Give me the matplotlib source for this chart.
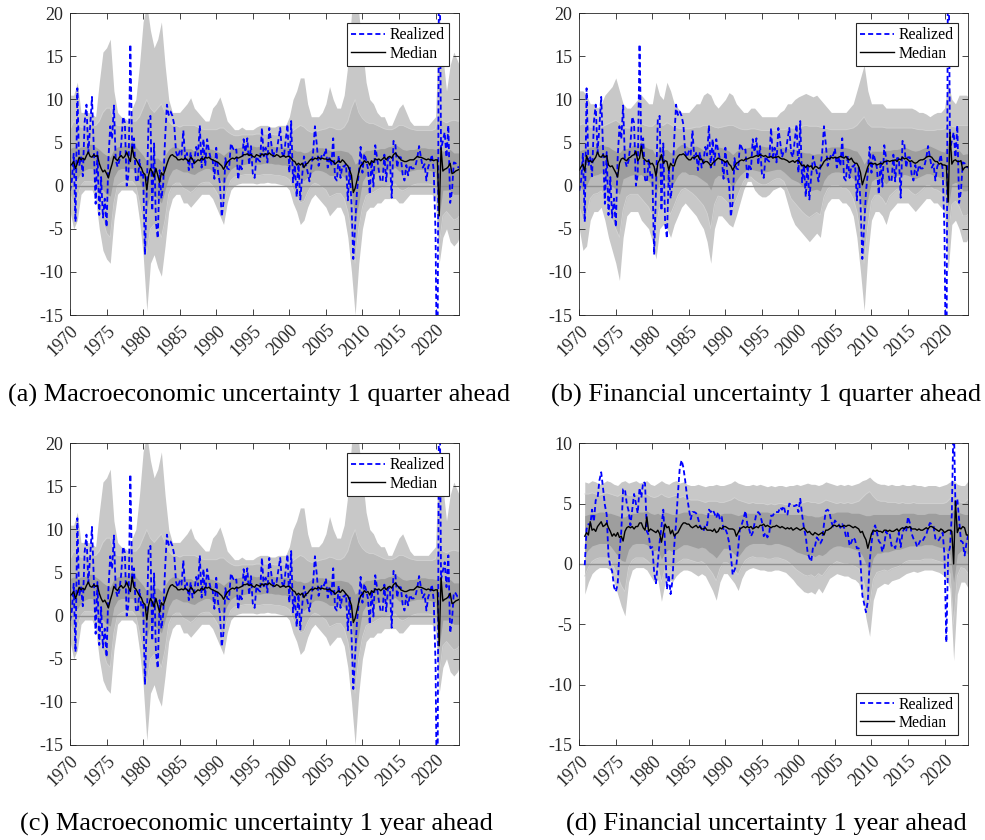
import numpy as np
import matplotlib.pyplot as plt

plt.rcParams["font.family"] = "Liberation Serif"
plt.rcParams["axes.unicode_minus"] = False

# realized quarterly GDP growth, annualized, 1970Q1 - 2023Q2
realized_q = [
    -0.6, 0.6, 3.7, -4.2, 11.3, 2.3, 3.3, 1.1, 7.4, 9.4, 3.8, 6.8,
    10.3, 4.4, -2.1, 3.9, -3.4, 1.0, -3.7, -1.5, -4.8, 3.1, 6.9, 5.4,
    9.3, 3.0, 2.2, 2.9, 4.8, 8.0, 7.3, 0.0, 1.3, 16.4, 4.1, 5.5,
    0.7, 0.4, 3.0, 1.0, 1.3, -8.0, -0.5, 7.7, 8.1, -2.9, 4.9, -4.3,
    -6.1, 1.8, -1.5, 0.2, 5.4, 9.4, 8.2, 8.6, 8.1, 7.1, 3.9, 3.3,
    4.0, 3.6, 6.4, 3.1, 3.8, 1.8, 3.9, 2.1, 2.8, 4.5, 3.5, 7.0,
    2.1, 5.4, 2.3, 5.4, 4.1, 3.1, 3.1, 0.8, 4.4, 1.5, 0.3, -3.6,
    -1.9, 3.2, 2.0, 1.9, 4.9, 4.4, 4.0, 4.2, 0.7, 2.5, 1.9, 5.4,
    3.9, 5.5, 2.4, 4.6, 1.4, 0.9, 3.4, 3.0, 2.8, 6.7, 3.4, 4.4,
    2.7, 6.7, 5.1, 3.3, 4.0, 3.9, 5.3, 6.7, 3.8, 3.3, 5.3, 7.1,
    1.5, 7.5, 0.4, 2.4, -1.3, 2.5, -1.6, 1.1, 3.4, 2.5, 1.6, 0.5,
    2.1, 3.8, 6.9, 4.8, 2.3, 3.0, 3.7, 3.5, 4.3, 2.1, 3.4, 2.3,
    5.5, 0.9, 0.6, 3.5, 0.9, 2.3, 2.2, 2.5, -1.7, 2.1, -2.1, -8.5,
    -4.6, -0.7, 1.5, 4.5, 1.5, 3.7, 3.0, 2.0, -1.0, 2.9, -0.1, 4.7,
    3.2, 1.7, 0.5, 0.5, 3.6, 0.5, 3.2, 3.2, -1.4, 5.2, 4.8, 2.1,
    3.3, 3.3, 1.3, 0.6, 2.4, 1.2, 2.4, 2.0, 2.0, 2.3, 3.2, 4.6,
    3.3, 2.1, 2.5, 0.6, 2.2, 2.7, 3.6, 1.8, -5.5, -28.0, 34.8, 4.2,
    5.2, 6.2, 3.3, 7.0, -2.0, -0.6, 2.7, 2.6, 2.2, 2.1,
]

# realized four-quarter growth, 1970Q4 - 2023Q2
realized_yoy = [
    -0.1,
    2.9, 3.3, 3.2, 4.5, 3.5, 5.3, 5.4, 6.9, 7.6, 6.3, 4.9, 4.1,
    0.7, -0.2, -0.6, -1.9, -2.3, -1.7, 0.9, 2.7, 6.2, 6.2, 5.0, 4.4,
    3.2, 4.5, 5.8, 5.0, 4.2, 6.3, 5.5, 6.8, 6.7, 2.7, 2.4, 1.3,
    1.4, -0.7, -1.6, 0.1, 1.8, 3.1, 4.5, 1.5, -2.1, -0.9, -2.5, -1.4,
    1.5, 3.4, 5.8, 7.9, 8.6, 8.0, 6.9, 5.6, 4.6, 3.7, 4.3, 4.3,
    4.2, 3.8, 3.2, 2.9, 2.7, 3.3, 3.2, 4.5, 4.3, 4.5, 4.2, 3.8,
    4.3, 3.7, 3.9, 2.8, 2.9, 2.5, 1.8, 0.7, -0.9, -0.5, -0.1, 1.3,
    3.0, 3.3, 3.8, 4.4, 3.3, 2.9, 2.3, 2.6, 3.4, 4.2, 4.3, 4.1,
    3.5, 2.3, 2.6, 2.2, 2.5, 4.0, 4.0, 4.3, 4.3, 4.3, 4.7, 4.5,
    4.8, 4.1, 4.1, 5.0, 4.9, 4.8, 4.8, 4.9, 4.3, 5.4, 4.1, 3.0,
    2.3, 1.0, 0.5, 0.2, 1.4, 1.4, 2.2, 2.0, 1.7, 2.0, 3.3, 4.4,
    4.5, 4.3, 3.5, 3.1, 3.6, 3.4, 3.3, 3.0, 3.3, 3.0, 2.3, 2.6,
    1.5, 1.8, 2.2, 2.0, 1.3, 1.3, 0.2, -2.6, -3.3, -4.0, -3.1, 0.2,
    1.7, 2.8, 3.2, 2.6, 1.9, 1.7, 1.0, 1.6, 2.7, 2.4, 2.5, 1.5,
    1.6, 1.3, 2.0, 2.6, 1.4, 2.6, 3.0, 2.7, 3.9, 3.4, 2.5, 2.1,
    1.9, 1.4, 1.7, 2.0, 1.9, 2.2, 2.4, 3.0, 3.4, 3.3, 3.1, 2.1,
    1.9, 2.0, 2.3, 2.6, 0.7, -6.5, 0.8, 1.4, 4.1, 12.6, 4.7, 5.4,
    3.6, 1.9, 1.8, 0.7, 1.7, 2.4,
]

# median forecasts
median_macro_1q = [
    2.3, 2.5, 2.8, 2.0, 2.6, 3.3, 3.0, 3.2, 3.0, 3.5, 3.9, 3.4,
    3.3, 3.6, 3.4, 3.5, 2.6, 2.0, 1.6, 1.8, 1.4, 0.9, 1.8, 2.5,
    3.4, 3.1, 2.9, 3.3, 3.5, 3.2, 3.4, 3.9, 3.3, 2.8, 4.5, 3.3,
    3.1, 2.7, 2.3, 2.1, 1.5, 1.3, -0.5, 1.2, 2.0, 1.6, 1.0, 2.0,
    1.2, 0.4, 1.5, 1.2, 1.8, 2.5, 3.1, 3.5, 3.6, 3.4, 3.3, 3.0,
    3.0, 3.1, 3.0, 3.2, 3.0, 2.8, 3.3, 3.1, 2.6, 2.8, 3.0, 2.9,
    3.2, 3.0, 3.3, 3.2, 3.3, 3.1, 3.0, 2.9, 2.8, 2.7, 2.5, 2.3,
    1.9, 2.3, 2.7, 2.9, 3.1, 3.2, 3.1, 3.3, 3.2, 3.3, 3.4, 3.6,
    3.6, 3.7, 3.5, 3.6, 3.4, 3.3, 3.6, 3.5, 3.4, 3.7, 3.5, 3.7,
    3.6, 3.8, 3.6, 3.5, 3.4, 3.6, 3.5, 3.3, 3.4, 3.5, 3.3, 3.4,
    3.4, 3.2, 2.9, 2.8, 2.4, 2.6, 2.4, 2.6, 2.1, 2.5, 2.6, 2.9,
    3.1, 3.0, 3.2, 3.1, 3.3, 3.1, 3.2, 3.1, 3.1, 3.0, 3.1, 2.9,
    2.8, 2.5, 2.7, 2.9, 2.7, 3.0, 2.8, 2.5, 2.3, 1.8, 1.2, -0.8,
    -0.3, 0.6, 1.6, 2.3, 2.5, 2.9, 2.7, 2.8, 2.4, 2.9, 2.7, 3.1,
    3.0, 3.1, 2.9, 3.1, 3.3, 3.0, 3.3, 3.4, 3.2, 3.6, 3.8, 3.5,
    3.3, 3.0, 2.9, 2.8, 2.8, 2.9, 3.0, 3.0, 3.0, 3.2, 3.4, 3.3,
    3.3, 3.2, 3.1, 3.0, 3.1, 3.0, 3.0, 2.9, 3.0, 3.0, -3.5, 4.4,
    1.7, 1.9, 2.0, 2.2, 2.6, 1.4, 1.5, 1.7, 1.8, 1.9,
]

median_fin_1q = [
    1.8, 2.2, 2.5, 1.7, 3.5, 2.8, 2.9, 2.7, 3.0, 3.3, 3.9, 3.4,
    3.3, 3.6, 3.3, 3.5, 2.4, 2.2, 2.3, 1.9, 1.5, 1.0, 2.6, 3.1,
    3.2, 3.0, 2.9, 3.2, 3.3, 3.5, 3.6, 4.0, 2.9, 3.2, 4.6, 3.2,
    3.0, 2.8, 2.9, 2.5, 2.6, 2.2, 1.1, 2.6, 3.0, 3.6, 2.6, 2.9,
    2.8, 1.8, 2.6, 2.3, 2.3, 3.0, 3.4, 3.6, 3.6, 3.7, 3.5, 3.2,
    3.0, 3.0, 3.3, 3.2, 3.4, 3.5, 3.0, 3.1, 2.6, 2.8, 2.8, 2.6,
    2.3, 2.6, 2.8, 3.0, 3.2, 3.1, 3.0, 2.9, 2.7, 2.9, 2.5, 2.3,
    1.8, 2.2, 2.6, 2.7, 2.9, 3.0, 2.9, 3.1, 3.1, 3.2, 3.3, 3.3,
    3.4, 3.5, 3.4, 3.6, 3.5, 3.4, 3.5, 3.3, 3.3, 3.4, 3.2, 3.3,
    3.3, 3.4, 3.2, 3.1, 3.1, 3.0, 2.9, 2.7, 2.8, 2.9, 2.7, 2.9,
    2.9, 2.6, 2.3, 2.4, 2.1, 2.4, 2.2, 2.3, 1.9, 2.2, 2.2, 2.0,
    2.1, 2.4, 2.8, 3.0, 3.2, 3.1, 3.3, 3.2, 3.3, 3.2, 3.3, 3.4,
    3.3, 3.2, 3.4, 3.1, 3.0, 3.2, 2.8, 2.6, 2.6, 2.2, 1.5, 0.1,
    0.8, 1.5, 2.2, 2.6, 2.6, 2.5, 2.6, 2.4, 2.5, 2.6, 2.5, 2.8,
    2.8, 2.9, 2.8, 2.9, 2.9, 3.0, 2.8, 3.1, 3.0, 3.3, 3.1, 3.2,
    3.0, 2.8, 2.9, 2.7, 2.6, 2.7, 2.9, 3.0, 3.0, 3.1, 3.3, 3.4,
    3.4, 3.3, 3.0, 2.8, 2.8, 2.5, 2.6, 2.4, 2.4, 2.3, -1.9, 6.2,
    2.5, 2.9, 3.0, 2.8, 2.8, 2.9, 1.8, 2.1, 2.2, 2.2,
]

median_fin_1y = [
    2.3,
    2.6, 2.4, 3.5, 2.8, 2.9, 2.7, 3.1, 3.3, 3.5, 3.1, 3.2, 3.4,
    3.0, 2.7, 2.3, 2.5, 2.3, 2.6, 2.2, 2.3, 1.9, 2.7, 3.0, 3.1,
    3.0, 3.1, 2.9, 3.1, 3.1, 3.4, 3.4, 3.0, 2.8, 3.9, 2.7, 2.9,
    2.8, 2.7, 2.6, 2.8, 2.5, 1.8, 2.6, 3.3, 3.0, 3.1, 2.5, 2.8,
    2.3, 2.5, 2.6, 2.9, 3.2, 3.4, 3.4, 3.3, 3.3, 3.1, 3.0, 3.1,
    3.2, 3.0, 3.1, 2.9, 2.9, 3.0, 2.8, 2.8, 2.8, 2.7, 2.9, 2.6,
    2.7, 3.0, 2.9, 3.1, 3.1, 3.0, 2.9, 2.9, 2.9, 2.8, 2.3, 2.6,
    2.9, 3.0, 3.1, 3.0, 3.1, 3.0, 3.1, 2.9, 3.0, 3.1, 3.0, 3.2,
    3.2, 3.3, 3.1, 3.2, 3.1, 3.0, 3.1, 3.1, 3.2, 3.1, 3.0, 3.1,
    3.0, 2.9, 3.0, 2.9, 3.0, 2.8, 2.9, 3.0, 2.9, 2.8, 2.9, 3.0,
    2.8, 2.6, 2.7, 2.5, 2.4, 2.6, 2.5, 2.4, 2.5, 2.6, 2.4, 2.8,
    2.8, 2.9, 3.0, 3.2, 3.2, 3.1, 3.2, 3.1, 3.1, 3.2, 3.1, 3.2,
    3.2, 3.1, 3.0, 3.1, 3.0, 2.9, 2.6, 2.7, 2.3, 2.0, 1.3, 1.9,
    2.5, 2.8, 2.7, 2.8, 2.7, 2.7, 2.6, 2.8, 2.8, 2.7, 2.8, 2.7,
    2.7, 2.8, 2.9, 2.7, 2.9, 3.0, 2.9, 3.1, 3.0, 3.1, 2.9, 2.9,
    2.9, 2.8, 2.9, 2.8, 2.8, 2.9, 3.0, 2.9, 3.1, 3.1, 3.0, 2.9,
    2.8, 2.7, 2.9, 2.8, 2.6, 2.7, 2.8, 2.8, 2.7, 0.0, 5.2, 2.6,
    3.0, 2.9, 3.1, 3.0, 2.4, 2.4,
]

# predictive bands, half-yearly, 1970.0 - 2023.25
macro_1q_outer_hi = [
    10.5, 10.5, 12.0, 8.5, 8.5, 8.5, 8.3, 8.0, 12.0, 15.5,
    16.0, 17.0, 11.0, 8.5, 8.0, 7.8, 7.5, 9.0, 10.0, 14.0,
    19.0, 21.0, 18.0, 16.0, 17.0, 19.0, 14.0, 10.0, 8.5, 8.5,
    8.5, 9.0, 9.5, 10.2, 9.0, 8.5, 8.0, 7.5, 7.5, 9.0,
    9.5, 10.3, 9.0, 7.5, 7.0, 6.5, 6.5, 6.8, 6.5, 6.5,
    6.5, 6.8, 7.0, 7.0, 7.0, 6.8, 6.8, 7.0, 7.0, 7.0,
    8.0, 10.0, 11.0, 12.5, 12.5, 9.5, 8.0, 8.0, 8.0, 8.5,
    9.5, 11.5, 10.0, 9.0, 9.0, 10.5, 14.0, 20.0, 24.0, 20.0,
    16.0, 12.0, 10.0, 9.5, 8.5, 8.0, 8.0, 7.0, 7.0, 8.0,
    9.0, 9.5, 8.5, 7.5, 7.0, 7.0, 7.0, 7.0, 7.0, 7.5,
    8.0, 20.0, 15.0, 11.0, 14.0, 15.5, 14.5, 14.0,
]
macro_1q_outer_lo = [
    -3.0, -5.0, -4.0, -1.0, -0.5, -0.5, -0.5, -1.5, -5.0, -7.5,
    -8.5, -9.0, -4.0, -1.0, -0.5, -0.5, -0.5, -0.5, -1.0, -4.0,
    -8.0, -14.5, -9.0, -8.0, -9.5, -10.5, -7.0, -3.0, -1.5, -1.0,
    -1.0, -2.0, -2.0, -2.5, -2.0, -1.5, -1.0, -1.0, -1.0, -1.5,
    -2.5, -3.5, -4.5, -2.0, -0.5, 0.0, 0.2, 0.3, 0.3, 0.3,
    0.3, 0.2, 0.3, 0.3, 0.4, 0.3, 0.3, 0.2, 0.1, 0.0,
    -0.5, -2.0, -3.0, -4.5, -4.0, -2.5, -1.5, -1.0, -1.5, -2.0,
    -2.5, -3.5, -3.0, -2.5, -2.5, -3.5, -6.0, -10.0, -15.0, -9.0,
    -5.0, -3.0, -2.5, -2.5, -2.0, -2.0, -1.5, -1.5, -1.5, -1.5,
    -2.0, -2.0, -1.5, -1.0, -1.0, -1.0, -1.0, -1.0, -1.0, -1.0,
    -1.5, -9.0, -6.0, -5.0, -6.5, -7.0, -6.5, -6.0,
]
macro_1q_mid_hi = [
    6.5, 7.5, 7.0, 6.8, 6.8, 7.0, 7.0, 7.0, 7.5, 8.5,
    9.0, 9.0, 7.5, 7.0, 7.0, 7.0, 7.0, 7.5, 7.5, 8.0,
    9.0, 10.0, 9.0, 8.5, 9.0, 9.5, 8.5, 7.5, 7.0, 7.0,
    6.8, 7.0, 7.0, 7.0, 7.0, 6.8, 6.6, 6.5, 6.5, 6.5,
    6.5, 6.7, 6.7, 6.3, 6.0, 5.8, 5.8, 5.9, 5.9, 5.9,
    5.9, 6.0, 6.0, 6.0, 6.0, 6.0, 5.9, 5.9, 5.9, 5.9,
    6.0, 6.4, 6.7, 7.0, 6.8, 6.4, 6.2, 6.2, 6.4, 6.5,
    6.6, 6.8, 6.7, 6.5, 6.5, 6.8, 7.5, 9.0, 10.0, 8.5,
    7.8, 7.4, 7.2, 7.2, 7.0, 6.8, 6.6, 6.5, 6.5, 6.7,
    7.0, 7.0, 6.8, 6.6, 6.5, 6.4, 6.4, 6.4, 6.4, 6.4,
    6.6, 9.0, 7.5, 7.3, 7.5, 7.6, 7.5, 7.5,
]
macro_1q_mid_lo = [
    -1.0, -2.0, -1.5, 0.0, 0.5, 0.5, 0.5, 0.0, -2.0, -4.0,
    -5.5, -6.0, -2.0, 0.0, 0.3, 0.5, 0.5, 0.5, 0.0, -2.0,
    -4.5, -8.0, -5.0, -4.5, -5.0, -6.0, -4.0, -1.0, 0.0, 0.3,
    0.3, -0.3, -0.5, -0.8, -0.5, 0.0, 0.3, 0.4, 0.4, 0.0,
    -0.7, -1.5, -2.5, -0.5, 0.6, 1.0, 1.1, 1.2, 1.3, 1.3,
    1.3, 1.2, 1.2, 1.3, 1.3, 1.3, 1.2, 1.2, 1.1, 1.0,
    0.7, -0.4, -1.2, -2.0, -1.8, -0.8, 0.0, 0.3, 0.1, -0.2,
    -0.5, -1.3, -1.1, -0.9, -0.9, -1.5, -3.0, -5.5, -9.0, -5.0,
    -2.5, -1.2, -0.9, -0.8, -0.5, -0.3, -0.1, 0.0, 0.1, 0.2,
    -0.4, -0.6, -0.4, -0.1, 0.1, 0.2, 0.2, 0.2, 0.2, 0.1,
    -0.3, -7.0, -3.5, -3.0, -3.5, -4.0, -3.8, -3.5,
]
macro_1q_inner_hi = [
    4.3, 4.5, 4.3, 4.5, 4.5, 4.8, 4.8, 4.5, 4.2, 3.8,
    3.5, 3.3, 4.2, 4.5, 4.6, 4.6, 4.8, 5.2, 4.5, 4.0,
    3.5, 2.8, 3.5, 3.2, 3.2, 2.8, 3.5, 4.2, 4.5, 4.5,
    4.3, 4.3, 4.3, 4.3, 4.0, 4.2, 4.3, 4.4, 4.3, 4.2,
    4.0, 3.8, 3.5, 3.9, 4.2, 4.3, 4.4, 4.5, 4.6, 4.6,
    4.6, 4.5, 4.6, 4.6, 4.7, 4.6, 4.5, 4.5, 4.5, 4.4,
    4.4, 4.2, 4.0, 4.0, 3.8, 3.9, 4.2, 4.3, 4.4, 4.4,
    4.3, 4.1, 4.0, 4.1, 4.1, 4.0, 3.9, 3.5, 2.5, 2.8,
    3.8, 4.1, 4.1, 4.2, 4.2, 4.3, 4.3, 4.5, 4.6, 4.8,
    4.5, 4.2, 4.1, 4.2, 4.2, 4.3, 4.4, 4.4, 4.3, 4.3,
    4.2, 4.5, 4.0, 4.0, 4.2, 3.8, 3.8, 3.8,
]
macro_1q_inner_lo = [
    0.8, 1.0, 0.8, 1.5, 1.8, 2.0, 2.0, 1.5, 0.5, -0.5,
    -1.0, -1.2, 1.0, 1.8, 2.0, 2.0, 2.0, 2.0, 1.5, 0.5,
    -0.5, -2.5, -1.0, -1.2, -1.5, -2.0, -0.5, 1.0, 1.8, 2.0,
    1.8, 1.6, 1.6, 1.4, 1.3, 1.6, 1.8, 2.0, 2.0, 1.7,
    1.3, 0.8, 0.2, 1.2, 1.9, 2.2, 2.3, 2.4, 2.5, 2.6,
    2.5, 2.5, 2.5, 2.6, 2.6, 2.6, 2.5, 2.5, 2.4, 2.4,
    2.2, 1.6, 1.0, 0.8, 0.6, 1.0, 1.5, 1.8, 1.8, 1.7,
    1.5, 1.2, 1.2, 1.3, 1.3, 1.0, 0.5, -0.8, -4.0, -2.0,
    0.5, 1.2, 1.2, 1.3, 1.5, 1.6, 1.7, 1.8, 2.0, 2.1,
    1.7, 1.5, 1.5, 1.7, 1.8, 1.9, 1.9, 1.9, 1.8, 1.7,
    1.5, -3.5, -0.5, -0.5, -0.5, -1.0, -1.0, -1.0,
]

fin_1q_outer_hi = [
    11.0, 11.0, 10.5, 9.5, 9.5, 9.0, 9.5, 10.5, 11.0, 11.5,
    12.5, 11.0, 9.5, 9.0, 9.0, 9.5, 10.0, 10.5, 10.0, 9.5,
    9.5, 12.0, 10.5, 10.0, 12.0, 11.0, 9.5, 9.0, 8.5, 8.5,
    8.5, 9.0, 9.5, 9.5, 10.5, 10.8, 10.5, 9.5, 9.0, 9.5,
    10.0, 10.8, 10.5, 9.5, 9.0, 8.5, 8.5, 9.0, 9.0, 8.5,
    8.0, 8.0, 8.0, 8.0, 8.0, 8.5, 8.8, 9.5, 9.5, 10.0,
    10.3, 10.5, 10.7, 10.5, 10.3, 10.5, 10.0, 9.5, 9.0, 8.5,
    8.5, 8.5, 8.5, 8.5, 9.0, 9.5, 11.0, 12.5, 14.0, 11.0,
    9.5, 9.5, 9.5, 9.5, 9.0, 9.0, 9.0, 9.0, 9.0, 9.0,
    9.0, 9.0, 8.8, 8.5, 8.5, 8.3, 8.0, 8.3, 8.5, 8.5,
    9.0, 12.0, 10.0, 9.5, 10.5, 10.5, 10.5, 10.3,
]
fin_1q_outer_lo = [
    -5.0, -7.5, -7.0, -4.0, -3.0, -3.0, -2.5, -4.0, -6.0, -7.5,
    -9.0, -11.0, -6.0, -3.5, -3.0, -3.0, -3.0, -4.0, -4.5, -5.0,
    -6.5, -8.5, -5.0, -4.5, -5.0, -6.0, -4.5, -3.5, -2.5, -2.0,
    -2.5, -3.0, -3.5, -4.3, -5.0, -6.5, -9.0, -5.0, -3.5, -3.5,
    -4.0, -4.5, -4.8, -3.5, -2.0, -0.5, 0.5, 0.5, -0.5, -1.0,
    -1.3, -1.3, -1.0, -0.5, -0.3, -0.1, -0.5, -2.0, -3.5, -4.5,
    -5.0, -5.5, -6.0, -6.5, -6.0, -5.5, -6.0, -3.0, -2.0, -1.5,
    -1.5, -1.5, -2.0, -2.0, -2.5, -3.5, -6.0, -10.0, -14.5, -8.0,
    -4.0, -3.0, -3.0, -3.5, -4.5, -3.0, -2.5, -2.0, -2.0, -2.0,
    -2.0, -2.5, -3.0, -2.5, -2.0, -1.5, -1.5, -2.0, -2.0, -2.5,
    -3.0, -10.0, -4.5, -4.0, -5.0, -6.5, -6.5, -6.0,
]
fin_1q_mid_hi = [
    7.0, 7.2, 7.0, 6.8, 6.8, 6.7, 6.8, 7.0, 7.2, 7.4,
    7.6, 7.3, 6.9, 6.7, 6.7, 6.8, 7.0, 7.2, 7.0, 6.9,
    6.9, 7.3, 7.1, 7.0, 7.3, 7.1, 6.8, 6.7, 6.6, 6.6,
    6.6, 6.7, 6.8, 6.8, 7.0, 7.0, 7.0, 6.8, 6.7, 6.8,
    6.9, 7.0, 7.0, 6.8, 6.6, 6.5, 6.5, 6.6, 6.6, 6.5,
    6.4, 6.4, 6.4, 6.4, 6.4, 6.5, 6.5, 6.6, 6.7, 6.7,
    6.8, 6.9, 7.0, 6.9, 6.9, 6.9, 6.8, 6.7, 6.6, 6.5,
    6.5, 6.5, 6.5, 6.5, 6.6, 6.7, 7.0, 7.5, 8.0, 7.2,
    6.8, 6.8, 6.8, 6.8, 6.7, 6.7, 6.7, 6.7, 6.7, 6.7,
    6.7, 6.7, 6.6, 6.5, 6.5, 6.4, 6.4, 6.4, 6.5, 6.5,
    6.6, 7.5, 6.9, 6.8, 7.0, 7.0, 7.0, 7.0,
]
fin_1q_mid_lo = [
    -2.5, -4.0, -3.5, -1.5, -1.0, -0.9, -0.6, -1.5, -3.0, -4.0,
    -5.0, -6.0, -2.8, -1.3, -1.0, -1.0, -1.0, -1.5, -2.0, -2.5,
    -3.5, -5.0, -2.5, -2.2, -2.5, -3.3, -2.3, -1.2, -0.5, -0.3,
    -0.6, -0.9, -1.3, -1.8, -2.3, -3.2, -5.0, -2.2, -1.2, -1.3,
    -1.7, -2.2, -2.7, -1.6, -0.5, 0.5, 1.0, 1.0, 0.6, 0.3,
    0.1, 0.1, 0.3, 0.6, 0.8, 0.8, 0.5, -0.5, -1.5, -2.0,
    -2.5, -3.0, -3.4, -3.7, -3.4, -3.1, -3.4, -1.3, -0.4, 0.0,
    0.0, 0.0, -0.3, -0.3, -0.7, -1.5, -3.0, -5.8, -9.0, -4.8,
    -1.8, -1.1, -1.1, -1.5, -2.2, -1.2, -0.8, -0.4, -0.4, -0.4,
    -0.4, -0.8, -1.1, -0.8, -0.4, 0.0, 0.0, -0.4, -0.5, -0.8,
    -1.2, -6.0, -2.2, -1.8, -2.4, -3.5, -3.5, -3.3,
]
fin_1q_inner_hi = [
    4.0, 4.2, 4.3, 4.5, 4.5, 4.6, 4.8, 4.6, 4.5, 4.2,
    4.0, 3.8, 4.3, 4.3, 4.5, 4.8, 4.6, 5.2, 4.5, 4.3,
    4.2, 3.4, 4.5, 4.2, 4.2, 3.8, 4.0, 4.5, 4.8, 4.7,
    4.4, 4.5, 4.6, 4.4, 4.1, 4.2, 4.0, 4.3, 4.5, 4.4,
    4.2, 4.0, 3.6, 4.0, 4.2, 4.3, 4.4, 4.5, 4.6, 4.6,
    4.6, 4.5, 4.5, 4.5, 4.5, 4.5, 4.4, 4.3, 4.2, 4.2,
    4.2, 3.9, 3.8, 3.8, 3.6, 3.7, 3.7, 4.1, 4.4, 4.5,
    4.5, 4.5, 4.5, 4.4, 4.3, 4.1, 4.0, 3.4, 2.5, 3.2,
    4.0, 4.0, 4.0, 4.0, 4.1, 4.1, 4.2, 4.2, 4.3, 4.5,
    4.3, 4.1, 4.0, 4.1, 4.3, 4.5, 4.6, 4.4, 4.2, 4.0,
    3.9, 5.0, 4.0, 4.2, 4.1, 3.6, 3.7, 3.7,
]
fin_1q_inner_lo = [
    0.0, -0.5, 0.0, 1.0, 1.2, 1.3, 1.5, 1.2, 0.6, 0.0,
    -0.5, -1.0, 0.8, 1.0, 1.2, 1.3, 1.2, 1.3, 0.8, 0.5,
    0.0, -1.0, 0.5, 0.6, 0.5, -0.2, 0.4, 1.2, 1.6, 1.6,
    1.3, 1.3, 1.2, 0.9, 0.6, 0.3, -0.5, 0.8, 1.2, 1.1,
    0.8, 0.4, -0.2, 0.6, 1.2, 1.6, 1.9, 1.9, 1.8, 1.7,
    1.6, 1.6, 1.7, 1.8, 1.9, 1.9, 1.6, 1.2, 0.8, 0.6,
    0.4, 0.0, -0.4, -0.6, -0.5, -0.4, -0.6, 0.6, 1.2, 1.5,
    1.6, 1.6, 1.5, 1.4, 1.2, 0.8, 0.0, -1.5, -3.5, -1.5,
    0.5, 0.8, 0.8, 0.6, 0.2, 0.7, 1.0, 1.2, 1.2, 1.3,
    1.2, 1.0, 0.8, 1.0, 1.2, 1.4, 1.4, 1.2, 1.1, 0.9,
    0.6, -2.5, 0.2, 0.4, 0.2, -0.6, -0.6, -0.5,
]

# one-year-ahead bands, half-yearly, 1970.75 - 2023.25
fin_1y_outer_hi = [
    6.8,
    6.7, 6.9, 6.8, 6.6, 6.7, 6.9, 6.8, 6.6, 6.5, 6.8,
    6.9, 6.7, 6.8, 6.9, 6.7, 6.8, 6.9, 6.6, 6.5, 6.7,
    6.9, 6.7, 6.6, 6.8, 6.9, 6.7, 6.8, 6.6, 6.5, 6.5,
    6.6, 6.5, 6.4, 6.5, 6.5, 6.6, 6.5, 6.5, 6.6, 6.7,
    6.9, 6.7, 6.6, 6.5, 6.5, 6.6, 6.5, 6.6, 6.5, 6.4,
    6.5, 6.4, 6.5, 6.5, 6.4, 6.5, 6.5, 6.6, 6.5, 6.6,
    6.7, 6.6, 6.6, 6.5, 6.6, 6.8, 6.7, 6.6, 6.5, 6.6,
    6.5, 6.6, 6.5, 6.6, 6.7, 6.9, 7.0, 7.2, 6.9, 6.7,
    6.6, 6.6, 6.5, 6.6, 6.5, 6.5, 6.6, 6.5, 6.5, 6.6,
    6.5, 6.5, 6.4, 6.5, 6.5, 6.5, 6.4, 6.5, 6.6, 6.8,
    6.9, 6.6, 6.5, 6.5,
    6.9,
]
fin_1y_outer_lo = [
    -2.5,
    -1.5, -0.8, -0.5, -0.3, -0.3, -0.3, -0.5, -1.5, -2.5, -3.5,
    -4.3, -1.5, -0.5, -0.3, -0.3, -0.3, -0.5, -1.0, -1.5, -1.3,
    -3.1, -1.5, -1.2, -1.5, -1.0, -0.7, -0.5, -0.5, -0.6, -0.8,
    -1.0, -0.8, -1.0, -1.6, -2.2, -3.0, -1.5, -0.8, -0.8, -1.2,
    -1.6, -2.2, -1.2, -0.6, -0.4, -0.3, -0.4, -0.5, -0.5, -0.6,
    -0.6, -0.5, -0.5, -0.6, -0.7, -1.0, -1.3, -1.7, -2.0, -2.3,
    -2.4, -2.3, -2.5, -2.0, -2.4, -1.8, -1.2, -1.0, -0.8, -0.9,
    -1.0, -1.0, -1.2, -1.3, -1.6, -2.6, -4.5, -6.0, -3.0, -2.0,
    -1.8, -1.6, -1.7, -1.4, -1.3, -1.2, -1.0, -0.8, -0.7, -0.6,
    -0.7, -0.6, -0.5, -0.5, -0.5, -0.6, -0.7, -0.9, -1.3, -2.0,
    -8.0, -2.5, -1.5, -1.5,
    -2.0,
]
fin_1y_mid_hi = [
    5.8,
    5.8, 5.9, 5.8, 5.7, 5.8, 5.9, 5.8, 5.7, 5.6, 5.8,
    5.9, 5.7, 5.7, 5.8, 5.7, 5.7, 5.8, 5.6, 5.5, 5.6,
    5.8, 5.6, 5.5, 5.6, 5.7, 5.5, 5.6, 5.4, 5.3, 5.3,
    5.3, 5.2, 5.1, 5.2, 5.2, 5.2, 5.1, 5.1, 5.2, 5.3,
    5.5, 5.3, 5.2, 5.1, 5.0, 5.1, 5.0, 5.0, 5.0, 4.9,
    5.0, 4.9, 5.0, 5.0, 4.9, 5.0, 5.0, 5.0, 5.0, 5.1,
    5.2, 5.1, 5.1, 5.0, 5.1, 5.3, 5.2, 5.1, 5.0, 5.1,
    5.0, 5.1, 5.0, 5.1, 5.2, 5.5, 5.8, 6.0, 5.6, 5.3,
    5.2, 5.2, 5.1, 5.1, 5.1, 5.0, 5.1, 5.0, 5.0, 5.1,
    5.0, 5.0, 5.0, 5.0, 5.0, 5.0, 5.0, 5.0, 5.1, 5.4,
    5.7, 5.3, 5.1, 5.1,
    5.4,
]
fin_1y_mid_lo = [
    -1.0,
    -0.3, 0.2, 0.4, 0.5, 0.5, 0.5, 0.3, -0.3, -1.0, -1.8,
    -2.3, -0.3, 0.3, 0.5, 0.5, 0.5, 0.3, 0.0, -0.3, -0.2,
    -1.5, -0.4, -0.2, -0.4, 0.0, 0.2, 0.4, 0.4, 0.3, 0.2,
    0.1, 0.2, 0.0, -0.4, -0.8, -1.4, -0.4, 0.1, 0.1, -0.1,
    -0.5, -0.9, -0.2, 0.3, 0.5, 0.6, 0.5, 0.5, 0.5, 0.4,
    0.4, 0.5, 0.5, 0.4, 0.3, 0.1, -0.2, -0.5, -0.7, -0.9,
    -1.0, -0.9, -1.1, -0.8, -1.0, -0.6, -0.2, 0.0, 0.2, 0.1,
    0.0, 0.0, -0.1, -0.2, -0.4, -1.1, -2.3, -3.5, -1.3, -0.7,
    -0.6, -0.5, -0.6, -0.4, -0.3, -0.2, 0.0, 0.2, 0.3, 0.3,
    0.3, 0.3, 0.4, 0.4, 0.4, 0.3, 0.2, 0.1, -0.3, -0.8,
    -5.0, -1.0, -0.3, -0.4,
    -0.8,
]
fin_1y_inner_hi = [
    4.0,
    4.1, 4.2, 4.2, 4.3, 4.3, 4.2, 4.2, 4.1, 4.0, 3.9,
    3.9, 4.1, 4.2, 4.2, 4.3, 4.3, 4.4, 4.2, 4.1, 4.2,
    4.0, 4.3, 4.2, 4.1, 4.1, 4.2, 4.3, 4.3, 4.2, 4.2,
    4.2, 4.2, 4.1, 4.1, 4.1, 4.0, 4.1, 4.2, 4.2, 4.2,
    4.1, 4.0, 4.1, 4.2, 4.2, 4.2, 4.2, 4.3, 4.3, 4.3,
    4.2, 4.2, 4.2, 4.2, 4.2, 4.1, 4.1, 4.1, 4.1, 4.1,
    4.0, 4.0, 3.9, 3.9, 4.0, 4.1, 4.2, 4.2, 4.3, 4.3,
    4.3, 4.3, 4.2, 4.2, 4.2, 4.1, 4.0, 4.0, 4.1, 4.1,
    4.1, 4.1, 4.1, 4.1, 4.1, 4.1, 4.2, 4.2, 4.2, 4.2,
    4.1, 4.1, 4.1, 4.2, 4.2, 4.2, 4.1, 4.1, 4.1, 4.1,
    4.5, 4.3, 4.2, 4.1,
    4.1,
]
fin_1y_inner_lo = [
    0.8,
    1.2, 1.5, 1.6, 1.7, 1.7, 1.7, 1.5, 1.1, 0.7, 0.3,
    0.2, 1.2, 1.6, 1.7, 1.7, 1.7, 1.6, 1.3, 1.1, 1.2,
    0.4, 1.0, 1.2, 1.0, 1.2, 1.4, 1.6, 1.6, 1.5, 1.4,
    1.3, 1.4, 1.3, 1.0, 0.8, 0.5, 0.9, 1.3, 1.3, 1.1,
    0.8, 0.6, 1.0, 1.4, 1.6, 1.7, 1.7, 1.7, 1.7, 1.6,
    1.6, 1.7, 1.7, 1.6, 1.5, 1.4, 1.2, 1.0, 0.9, 0.8,
    0.7, 0.8, 0.6, 0.8, 0.7, 0.9, 1.2, 1.4, 1.5, 1.5,
    1.4, 1.4, 1.3, 1.2, 1.1, 0.7, 0.0, -0.7, 0.5, 0.9,
    0.9, 1.0, 1.0, 1.1, 1.2, 1.2, 1.3, 1.4, 1.5, 1.5,
    1.5, 1.5, 1.6, 1.6, 1.6, 1.5, 1.4, 1.3, 1.1, 0.8,
    -1.5, 0.8, 1.1, 1.0,
    0.8,
]

quarters = 1970 + np.arange(len(realized_q)) / 4
quarters_1y = 1970.75 + np.arange(len(realized_yoy)) / 4
half_years = np.append(np.arange(1970, 2023.1, 0.5), 2023.25)
half_years_1y = np.arange(1970.75, 2023.3, 0.5)

macro_1q_bands = [
    (macro_1q_outer_lo, macro_1q_outer_hi),
    (macro_1q_mid_lo, macro_1q_mid_hi),
    (macro_1q_inner_lo, macro_1q_inner_hi),
]
fin_1q_bands = [
    (fin_1q_outer_lo, fin_1q_outer_hi),
    (fin_1q_mid_lo, fin_1q_mid_hi),
    (fin_1q_inner_lo, fin_1q_inner_hi),
]
fin_1y_bands = [
    (fin_1y_outer_lo, fin_1y_outer_hi),
    (fin_1y_mid_lo, fin_1y_mid_hi),
    (fin_1y_inner_lo, fin_1y_inner_hi),
]

band_colors = ["#c8c8c8", "#bababa", "#9e9e9e"]
axis_color = "#262626"


def draw_panel(ax, t_band, bands, t, realized, median, ylim, legend_loc):
    for (lo, hi), col in zip(bands, band_colors):
        ax.fill_between(t_band, lo, hi, color=col, lw=0)
    mid_lo, mid_hi = bands[1]
    ax.plot(t_band, mid_hi, color="#d2d2d2", lw=0.6)
    ax.plot(t_band, mid_lo, color="#d2d2d2", lw=0.6)
    ax.axhline(0, color="#8f8f8f", lw=1.0)
    ax.plot(t, realized, color="#0000ff", lw=1.3, ls=(0, (2.8, 1.7)),
            label="Realized")
    ax.plot(t, median, color="black", lw=1.0, label="Median")

    ax.set_xlim(1970, 2023.25)
    ax.set_ylim(*ylim)
    ax.set_xticks(range(1970, 2021, 5))
    ax.set_yticks(range(ylim[0], ylim[1] + 1, 5))
    ax.tick_params(direction="in", top=True, right=True, length=4,
                   width=0.6, labelsize=13, colors=axis_color, pad=5)
    for lab in ax.get_xticklabels():
        lab.set_rotation(45)
        lab.set_ha("right")
        lab.set_va("top")
        lab.set_rotation_mode("anchor")
    for s in ax.spines.values():
        s.set_linewidth(0.6)
        s.set_color(axis_color)

    leg = ax.legend(loc=legend_loc, fontsize=11.3, handlelength=2.2,
                    handletextpad=0.3, borderpad=0.25, labelspacing=0.15,
                    borderaxespad=0.65, fancybox=False, framealpha=1)
    leg.get_frame().set_edgecolor(axis_color)
    leg.get_frame().set_linewidth(0.8)


fig = plt.figure(figsize=(9.85, 8.4), dpi=100)

ax_a = fig.add_axes([0.0711, 0.625, 0.3952, 0.3592])
ax_b = fig.add_axes([0.5881, 0.625, 0.3949, 0.3592])
ax_c = fig.add_axes([0.0711, 0.1131, 0.3952, 0.3592])
ax_d = fig.add_axes([0.5881, 0.1131, 0.3949, 0.3592])

draw_panel(ax_a, half_years, macro_1q_bands, quarters, realized_q,
           median_macro_1q, (-15, 20), "upper right")
draw_panel(ax_b, half_years, fin_1q_bands, quarters, realized_q,
           median_fin_1q, (-15, 20), "upper right")
draw_panel(ax_c, half_years, macro_1q_bands, quarters, realized_q,
           median_macro_1q, (-15, 20), "upper right")
draw_panel(ax_d, half_years_1y, fin_1y_bands, quarters_1y, realized_yoy,
           median_fin_1y, (-15, 10), "lower right")

captions = [
    (0.263, 0.5214, "(a) Macroeconomic uncertainty 1 quarter ahead"),
    (0.778, 0.5214, "(b) Financial uncertainty 1 quarter ahead"),
    (0.260, 0.0115, "(c) Macroeconomic uncertainty 1 year ahead"),
    (0.778, 0.0115, "(d) Financial uncertainty 1 year ahead"),
]
for x, y, txt in captions:
    fig.text(x, y, txt, ha="center", va="baseline", fontsize=19)

fig.savefig("out.png", dpi=100)
